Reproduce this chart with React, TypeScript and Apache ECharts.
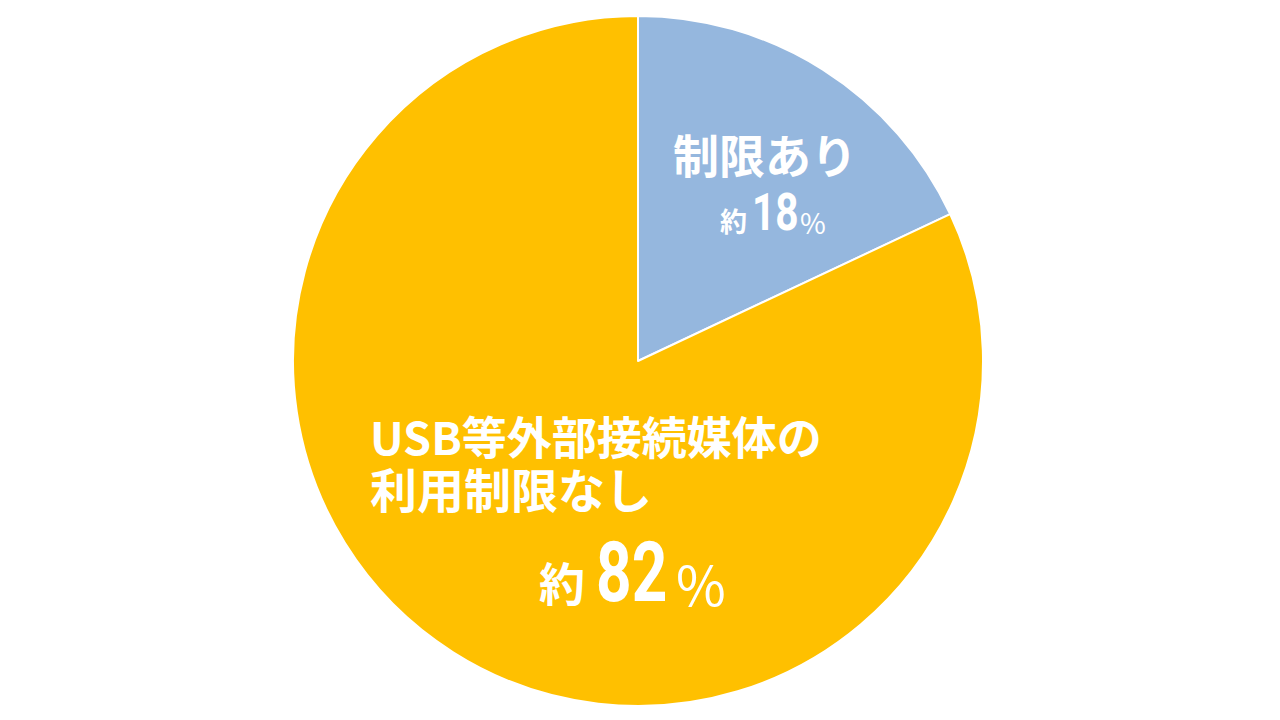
import React, { useEffect, useRef } from "react";
import * as echarts from "echarts";

const categories = ["制限あり", "USB等外部接続媒体の利用制限なし"];
const values = [18, 82];
const colors = ["#95B7DE", "#FFC000"];
const labelLines = [["制限あり"], ["USB等外部接続媒体の", "利用制限なし"]];
const approxPrefix = "約";
const percentSign = "%";

const FONT = '"Noto Sans CJK JP", "Noto Sans", sans-serif';
const DIGIT_FONT = 'Roboto, "Noto Sans", sans-serif';

export default function App() {
  const ref = useRef<HTMLDivElement>(null);
  useEffect(() => {
    if (!ref.current) return;
    const chart = echarts.init(ref.current, null, { renderer: "svg" });
    const white = "#ffffff";
    const t = (
      text: string,
      x: number,
      y: number,
      size: number,
      align: string,
      family = FONT,
      scaleX = 1,
      weight = "bold"
    ) => ({
      type: "text",
      x,
      y,
      scaleX,
      silent: true,
      style: {
        text,
        x: 0,
        y: 0,
        fill: white,
        font: `${weight} ${size}px ${family}`,
        align,
        verticalAlign: "middle",
      },
      z: 10,
    });
    chart.setOption({
      animation: false,
      backgroundColor: "#ffffff",
      series: [
        {
          type: "pie",
          center: [638, 361],
          radius: 345,
          startAngle: 90,
          clockwise: true,
          label: { show: false },
          labelLine: { show: false },
          silent: true,
          itemStyle: { borderColor: "#ffffff", borderWidth: 2 },
          data: categories.map((name, i) => ({
            name,
            value: values[i],
            itemStyle: { color: colors[i] },
          })),
        },
      ],
      graphic: [
        t(labelLines[0][0], 765, 153, 46, "center"),
        t(approxPrefix, 747, 220, 27, "right"),
        t(String(values[0]), 752, 212, 52, "left", DIGIT_FONT, 0.78),
        t(percentSign, 800, 222, 28, "left", FONT, 1, "normal"),
        {
          type: "text",
          x: 370,
          y: 409,
          silent: true,
          z: 10,
          style: {
            text: `{a|${labelLines[1][0]}}\n{b|${labelLines[1][1]}}`,
            x: 0,
            y: 0,
            align: "left",
            verticalAlign: "top",
            rich: {
              a: { fill: white, fontSize: 45, fontWeight: "bold", fontFamily: FONT, lineHeight: 52 },
              b: { fill: white, fontSize: 47, fontWeight: "bold", fontFamily: FONT, lineHeight: 52 },
            },
          },
        },
        t(approxPrefix, 585, 581, 46, "right"),
        t(String(values[1]), 596, 572, 84, "left", DIGIT_FONT, 0.74),
        t(percentSign, 676, 582, 54, "left", FONT, 1, "normal"),
      ],
    });
    return () => chart.dispose();
  }, []);
  return (
    <div
      ref={ref}
      style={{ position: "fixed", left: 0, top: 0, width: 1280, height: 720 }}
    />
  );
}
